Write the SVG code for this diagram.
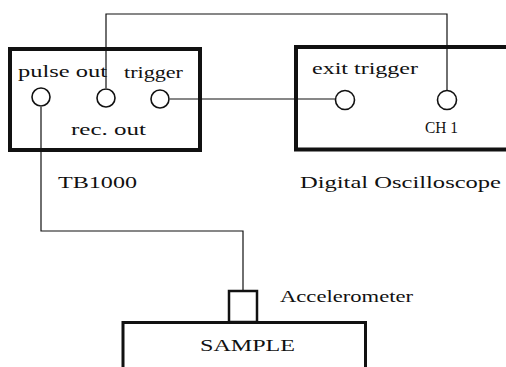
<svg xmlns="http://www.w3.org/2000/svg" width="506" height="367" viewBox="0 0 506 367">
<style>
.box{fill:none;stroke:#111;stroke-width:4}
.port{fill:#fff;stroke:#111;stroke-width:1.6}
.wire{fill:none;stroke:#111;stroke-width:1.2}
text{font-family:"Liberation Serif","DejaVu Serif",serif;fill:#111;font-size:16px}
</style>
<rect width="506" height="367" fill="#fff"/>
<g id="connectors">
<path class="wire" d="M106,88 V14 H447 V90"/>
<path class="wire" d="M170,99 H335"/>
<path class="wire" d="M41,107 V231 H243 V291"/>
</g>
<g id="tb1000">
<rect class="box" x="10" y="49" width="190" height="101"/>
<circle class="port" cx="41" cy="97" r="9"/>
<circle class="port" cx="106" cy="98" r="9"/>
<circle class="port" cx="160" cy="99" r="9"/>
<text x="18" y="77" font-size="17" textLength="89" lengthAdjust="spacingAndGlyphs">pulse out</text>
<text x="124" y="78" font-size="17" textLength="59" lengthAdjust="spacingAndGlyphs">trigger</text>
<text x="71" y="135" font-size="17" textLength="75" lengthAdjust="spacingAndGlyphs">rec. out</text>
<text x="58" y="188" font-size="18" textLength="79" lengthAdjust="spacingAndGlyphs">TB1000</text>
</g>
<g id="oscilloscope">
<path class="box" d="M510,47 H296 V149.5 H510"/>
<circle class="port" cx="345" cy="100" r="9.5"/>
<circle class="port" cx="447" cy="100" r="9.5"/>
<text x="312" y="74" font-size="17" textLength="106" lengthAdjust="spacingAndGlyphs">exit trigger</text>
<text x="425" y="133" font-size="9" textLength="33" lengthAdjust="spacingAndGlyphs">CH 1</text>
<text x="300" y="188" font-size="18" textLength="201" lengthAdjust="spacingAndGlyphs">Digital Oscilloscope</text>
</g>
<g id="accelerometer">
<rect x="229" y="291" width="28" height="31" fill="none" stroke="#111" stroke-width="2.5"/>
<text x="280" y="302" font-size="17" textLength="133" lengthAdjust="spacingAndGlyphs">Accelerometer</text>
</g>
<g id="sample">
<path d="M123,370 V322.5 H365.5 V370" fill="none" stroke="#111" stroke-width="3"/>
<text x="200" y="351" font-size="18" textLength="95" lengthAdjust="spacingAndGlyphs">SAMPLE</text>
</g>
</svg>
